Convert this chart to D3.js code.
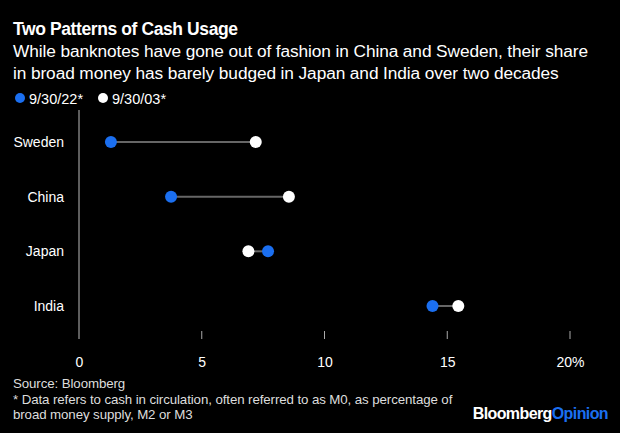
<!DOCTYPE html>
<html><head><meta charset="utf-8">
<script src="https://cdn.jsdelivr.net/npm/d3@7"></script>
<style>
html,body{margin:0;padding:0;background:#000;}
svg{display:block;font-family:"Liberation Sans",Arial,sans-serif;}
</style></head>
<body>
<svg id="c" width="620" height="433"></svg>
<script>
const countries = ["Sweden","China","Japan","India"];
const val2022 = [1.3, 3.75, 7.7, 14.4];
const val2003 = [7.2, 8.55, 6.9, 15.45];
const tickValues = [0,5,10,15,20];
const tickLabels = ["0","5","10","15","20%"];
const seriesNames = ["9/30/22*","9/30/03*"];

const blue = "#1b6ff0";
const svg = d3.select("#c");
svg.append("rect").attr("width",620).attr("height",433).attr("fill","#000");

svg.append("text").attr("x",13).attr("y",35).attr("fill","#fff")
  .attr("font-size",17.5).attr("font-weight","bold").attr("letter-spacing",-0.4)
  .text("Two Patterns of Cash Usage");
const sub = ["While banknotes have gone out of fashion in China and Sweden, their share",
             "in broad money has barely budged in Japan and India over two decades"];
sub.forEach((s,i)=>svg.append("text").attr("x",13).attr("y",57+i*22).attr("fill","#fff")
  .attr("font-size",17.3).attr("letter-spacing",-0.1).text(s));

// legend
const leg = [{c:blue,x:20},{c:"#fff",x:103}];
leg.forEach((l,i)=>{
  svg.append("circle").attr("cx",l.x).attr("cy",98).attr("r",5).attr("fill",l.c);
  svg.append("text").attr("x",l.x+9).attr("y",103.5).attr("fill","#fff").attr("font-size",14.5).text(seriesNames[i]);
});

const x = d3.scaleLinear().domain([0,20]).range([79,570]);
const y = d3.scalePoint().domain(countries).range([142,306]);

svg.append("line").attr("x1",x(0)).attr("x2",x(0)).attr("y1",110).attr("y2",339)
  .attr("stroke","#bbb").attr("stroke-width",1);

const ax = svg.append("g").attr("transform","translate(0,339)")
  .call(d3.axisBottom(x).tickValues(tickValues).tickSize(0).tickPadding(18)
    .tickFormat((d,i)=>tickLabels[i]));
ax.select(".domain").remove();
ax.selectAll("text").attr("fill","#fff").attr("font-size",14)
  .attr("font-family","Liberation Sans, Arial, sans-serif");
svg.selectAll("line.tk").data(tickValues.slice(1)).enter().append("line").attr("class","tk")
  .attr("x1",d=>x(d)).attr("x2",d=>x(d)).attr("y1",331).attr("y2",339)
  .attr("stroke","#aaa").attr("stroke-width",1);

svg.selectAll("text.cat").data(countries).enter().append("text").attr("class","cat")
  .attr("x",64).attr("y",d=>y(d)+5).attr("text-anchor","end").attr("fill","#fff")
  .attr("font-size",14).text(d=>d);

svg.selectAll("line.conn").data(countries).enter().append("line").attr("class","conn")
  .attr("x1",(d,i)=>x(val2022[i])).attr("x2",(d,i)=>x(val2003[i]))
  .attr("y1",d=>y(d)).attr("y2",d=>y(d)).attr("stroke","#666").attr("stroke-width",2);

svg.selectAll("circle.w").data(countries).enter().append("circle").attr("class","w")
  .attr("cx",(d,i)=>x(val2003[i])).attr("cy",d=>y(d)).attr("r",6).attr("fill","#fff");
svg.selectAll("circle.b").data(countries).enter().append("circle").attr("class","b")
  .attr("cx",(d,i)=>x(val2022[i])).attr("cy",d=>y(d)).attr("r",6).attr("fill",blue);

const foot = ["Source: Bloomberg",
  "* Data refers to cash in circulation, often referred to as M0, as percentage of",
  "broad money supply, M2 or M3"];
foot.forEach((s,i)=>svg.append("text").attr("x",13).attr("y",388+i*15.5).attr("fill","#ddd")
  .attr("font-size",13.3).attr("letter-spacing",-0.1).text(s));

const logo = svg.append("text").attr("x",608).attr("y",419).attr("text-anchor","end")
  .attr("font-size",16).attr("font-weight","bold").attr("letter-spacing",-0.6);
logo.append("tspan").attr("fill","#fff").text("Bloomberg");
logo.append("tspan").attr("fill",blue).text("Opinion");
</script>
</body></html>
